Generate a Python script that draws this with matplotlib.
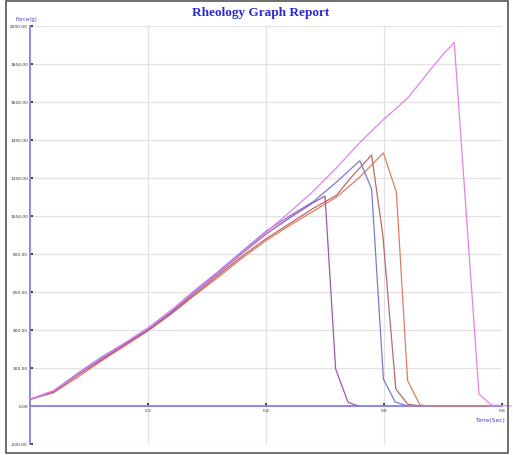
import matplotlib
matplotlib.use("Agg")
import matplotlib.pyplot as plt
from matplotlib.patches import Rectangle

title = "Rheology Graph Report"
x_label = "Time(Sec)"
y_label = "Force(g)"
x_ticks = [0.2, 0.4, 0.6, 0.8]
y_ticks = [-200, 0, 200, 400, 600, 800, 1000, 1200, 1400, 1600, 1800, 2000]

base_t = [0, 0.04, 0.08, 0.12, 0.16, 0.2, 0.24, 0.28, 0.32, 0.36, 0.4, 0.44, 0.48]

purple_t = base_t + [0.5, 0.518, 0.539, 0.556]
purple_f = [35, 75, 165, 245, 325, 400, 495, 600, 700, 805, 905, 990, 1070,
            1105, 195, 20, 0]

blue_t = base_t + [0.52, 0.559, 0.579, 0.599, 0.619, 0.64]
blue_f = [35, 80, 170, 255, 330, 410, 505, 610, 710, 815, 920, 1000, 1075,
          1180, 1291, 1142, 142, 21, 0]

brown_t = base_t + [0.52, 0.542, 0.579, 0.598, 0.62, 0.64, 0.66]
brown_f = [35, 75, 160, 240, 320, 400, 490, 590, 690, 790, 880, 960, 1040,
           1110, 1195, 1321, 900, 90, 10, 0]

red_t = base_t + [0.52, 0.559, 0.599, 0.621, 0.64, 0.661, 0.68, 0.78]
red_f = [35, 70, 150, 235, 315, 395, 485, 585, 680, 780, 870, 950, 1025,
         1100, 1205, 1332, 1125, 133, 5, 0, 0]

pink_t = base_t + [0.52, 0.56, 0.6, 0.64, 0.68, 0.70, 0.719, 0.761, 0.782, 0.815]
pink_f = [35, 80, 165, 250, 330, 410, 505, 605, 705, 810, 915, 1020, 1130,
          1255, 1390, 1510, 1620, 1775, 1850, 1914, 63, 5, 0]

fig = plt.figure(figsize=(5.13, 4.56), dpi=100)
ax = fig.add_axes([30 / 513, 1 - 445 / 456, (502 - 30) / 513, (445 - 27) / 456])

ax.set_xlim(0, 0.8)
ax.set_ylim(-200, 2000)
ax.set_xticks(x_ticks)
ax.set_yticks(y_ticks)
ax.set_xticklabels([f"{v:.1f}" for v in x_ticks])
ax.set_yticklabels([f"{v:.2f}" for v in y_ticks])
ax.grid(True, color="#e2e2e2", linewidth=0.9)
ax.set_axisbelow(True)

for s in ["top", "right"]:
    ax.spines[s].set_visible(False)
ax.spines["bottom"].set_position(("data", 0))
ax.spines["left"].set_position(("data", 0))
for s in ["bottom", "left"]:
    ax.spines[s].set_color("#8888e8")
    ax.spines[s].set_linewidth(1.4)
    ax.spines[s].set_zorder(1)

ax.tick_params(axis="both", labelsize=3.2, labelcolor="#333333", color="#222222",
               length=2, width=1.2, direction="in", pad=1.5)

lw = 0.9
ax.plot(red_t, red_f, color="#e47a64", lw=lw, clip_on=False, zorder=3)
ax.plot(brown_t, brown_f, color="#b86a6a", lw=lw, clip_on=False, zorder=3)
ax.plot(blue_t, blue_f, color="#7a7ad8", lw=lw, clip_on=False, zorder=3)
ax.plot(purple_t, purple_f, color="#a056ac", lw=lw, clip_on=False, zorder=3)
ax.plot(pink_t, pink_f, color="#e482e8", lw=lw, clip_on=False, zorder=3)

fig.text(261 / 513, 1 - 13 / 456, title, ha="center", va="center",
         fontsize=9.5, fontweight="bold", family="Liberation Serif", color="#2a2ad0")
fig.text(16 / 513, 1 - 20 / 456, y_label, ha="left", va="center",
         fontsize=3.8, color="#4040c0")
fig.text(490 / 513, 1 - 421 / 456, x_label, ha="center", va="center",
         fontsize=4.2, color="#4040c0")

fig.patches.append(Rectangle((6 / 513, 1 - 454 / 456), (508 - 6) / 513, (454 - 2) / 456,
                             transform=fig.transFigure, fill=False,
                             edgecolor="#555555", linewidth=1.2))

fig.savefig("out.png", dpi=100)
